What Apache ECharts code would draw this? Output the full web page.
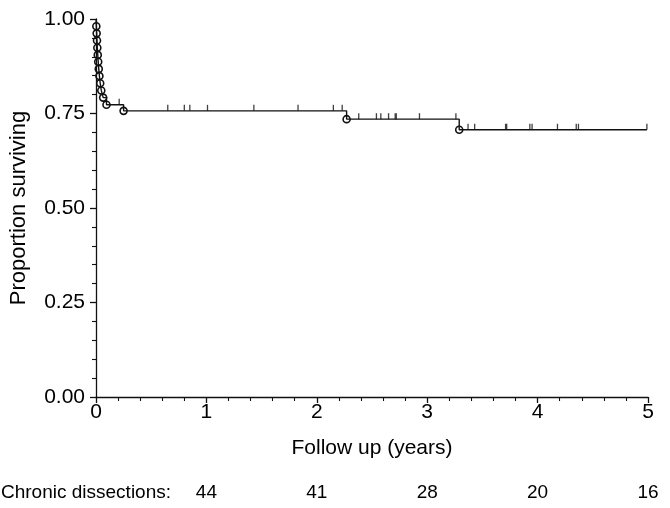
<!DOCTYPE html>
<html>
<head>
<meta charset="utf-8">
<script src="https://cdn.jsdelivr.net/npm/echarts@6/dist/echarts.min.js"></script>
<style>
html,body{margin:0;padding:0;background:#fff;}
#chart{width:670px;height:508px;}
</style>
</head>
<body>
<div id="chart"></div>
<script>
// Event (death) times in years and survival after each event
const eventTimes = [0.003, 0.006, 0.009, 0.012, 0.016, 0.020, 0.025, 0.031, 0.038, 0.048, 0.065, 0.095, 0.25, 2.27, 3.29];
const eventSurvival = [0.981, 0.962, 0.943, 0.924, 0.905, 0.887, 0.868, 0.849, 0.830, 0.811, 0.792, 0.773, 0.757, 0.735, 0.707];
// Censoring times (years)
const censorTimes = [0.21, 0.65, 0.80, 0.85, 1.01, 1.43, 1.83, 2.15, 2.23, 2.38, 2.54, 2.58, 2.65, 2.71, 2.72, 2.93, 3.26, 3.37, 3.43, 3.71, 3.72, 3.93, 3.95, 4.18, 4.35, 4.37, 4.99];
const followEnd = 4.99;
// Number at risk table
const riskLabel = 'Chronic dissections:';
const riskTimes = [1, 2, 3, 4, 5];
const riskCounts = [44, 41, 28, 20, 16];
// Axis ticks
const xTicks = [0, 1, 2, 3, 4, 5];
const yTicks = [0, 0.25, 0.5, 0.75, 1];

function survivalAt(t) {
  let s = 1;
  for (let i = 0; i < eventTimes.length; i++) {
    if (eventTimes[i] <= t) s = eventSurvival[i];
  }
  return s;
}

const lineData = [[0, 1]];
eventTimes.forEach((t, i) => lineData.push([t, eventSurvival[i]]));
lineData.push([followEnd, survivalAt(followEnd)]);
const eventData = eventTimes.map((t, i) => [t, eventSurvival[i]]);
const censorData = censorTimes.map(t => [t, survivalAt(t)]);

const FONT = 'Liberation Sans, Arial, Helvetica, sans-serif';
const TXT = '#000';
const INK = '#111';

const chart = echarts.init(document.getElementById('chart'), null, {renderer: 'canvas'});
chart.setOption({
  animation: false,
  backgroundColor: '#ffffff',
  textStyle: {fontFamily: FONT},
  grid: {left: 95, right: 22, top: 19, bottom: 111, containLabel: false},
  xAxis: [{
    type: 'value', min: xTicks[0], max: xTicks[xTicks.length - 1], interval: 1,
    name: 'Follow up (years)', nameLocation: 'middle', nameGap: 41,
    nameTextStyle: {fontFamily: FONT, fontSize: 21, color: TXT},
    axisLine: {show: true, onZero: false, lineStyle: {color: INK, width: 1.3}},
    axisTick: {show: true, length: 6, lineStyle: {color: INK, width: 1.3}},
    minorTick: {show: true, splitNumber: 5, length: 4, lineStyle: {color: INK, width: 1.1}},
    axisLabel: {fontFamily: FONT, fontSize: 21, color: TXT, margin: 5},
    splitLine: {show: false}
  }, {
    type: 'value', min: xTicks[0], max: xTicks[xTicks.length - 1], interval: 1,
    position: 'bottom', offset: 80,
    axisLine: {show: false}, axisTick: {show: false}, splitLine: {show: false},
    axisLabel: {
      fontFamily: FONT, fontSize: 19, color: TXT, margin: 6, showMinLabel: true,
      formatter: function (v) {
        const idx = riskTimes.indexOf(Math.round(v));
        return idx >= 0 ? String(riskCounts[idx]) : '';
      }
    }
  }],
  yAxis: {
    type: 'value', min: yTicks[0], max: yTicks[yTicks.length - 1], interval: 0.25,
    name: 'Proportion surviving', nameLocation: 'middle', nameGap: 66,
    nameTextStyle: {fontFamily: FONT, fontSize: 22, color: TXT},
    axisLine: {show: true, lineStyle: {color: INK, width: 1.3}},
    axisTick: {show: true, length: 6, lineStyle: {color: INK, width: 1.3}},
    minorTick: {show: true, splitNumber: 5, length: 4, lineStyle: {color: INK, width: 1.1}},
    axisLabel: {fontFamily: FONT, fontSize: 21, color: TXT, margin: 11, formatter: v => v.toFixed(2)},
    splitLine: {show: false}
  },
  graphic: [{
    type: 'text', left: 1, top: 483,
    style: {text: riskLabel, fontFamily: FONT, fontSize: 19, fill: TXT}
  }],
  series: [{
    type: 'line', data: lineData, step: 'end', showSymbol: false, symbol: 'none',
    lineStyle: {color: INK, width: 1.4}, z: 2
  }, {
    type: 'scatter', data: eventData, symbol: 'circle', symbolSize: 7,
    itemStyle: {color: 'rgba(255,255,255,0)', borderColor: INK, borderWidth: 1.6, opacity: 1}, z: 3
  }, {
    type: 'scatter', data: censorData, symbol: 'rect', symbolSize: [1.3, 6], symbolOffset: [0, -3],
    itemStyle: {color: INK}, z: 3
  }]
});
</script>
</body>
</html>
